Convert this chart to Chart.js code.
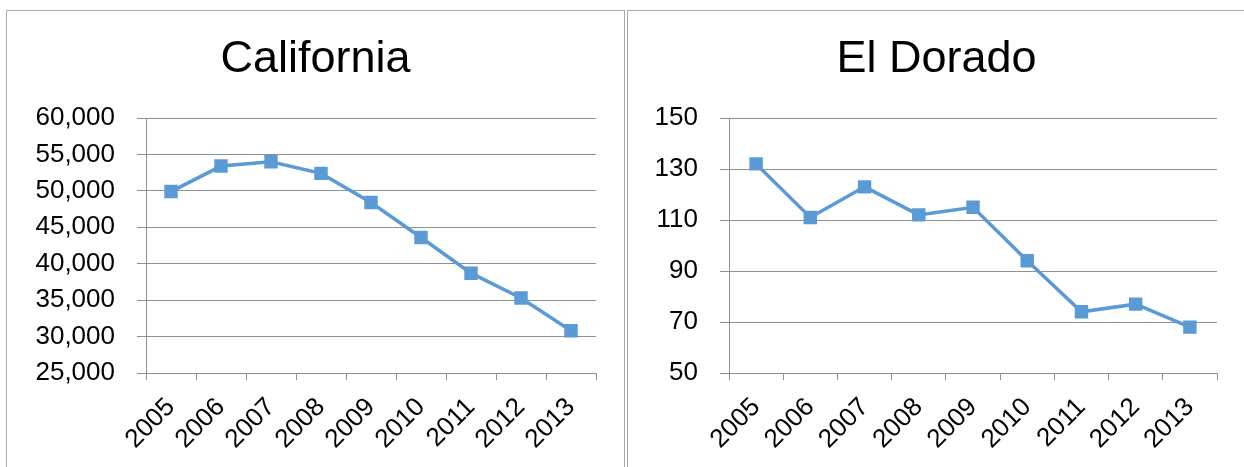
<!DOCTYPE html>
<html>
<head>
<meta charset="utf-8">
<script src="https://cdn.jsdelivr.net/npm/chart.js@4/dist/chart.umd.min.js"></script>
<style>
  html, body { margin: 0; padding: 0; background: #fff; overflow: hidden; }
  .panel {
    position: absolute;
    top: 10px;
    width: 617px;
    height: 470px;
    border: 1px solid #a9a9a9;
    background: #fff;
  }
  #leftPanel { left: 6px; }
  #rightPanel { left: 627px; }
  .panel canvas { display: block; }
</style>
</head>
<body>
<div class="panel" id="leftPanel"><canvas id="californiaChart"></canvas></div>
<div class="panel" id="rightPanel"><canvas id="elDoradoChart"></canvas></div>

<script>
const years = ["2005", "2006", "2007", "2008", "2009", "2010", "2011", "2012", "2013"];
const californiaValues = [49900, 53400, 54000, 52400, 48400, 43600, 38700, 35300, 30800];
const elDoradoValues = [132, 111, 123, 112, 115, 94, 74, 77, 68];

const californiaTicks = { min: 25000, max: 60000, step: 5000 };
const elDoradoTicks = { min: 50, max: 150, step: 20 };

const lineBlue = "#5b9bd5";
const gridGray = "#909090";
const fontFamily = "'Liberation Sans', Arial, sans-serif";

function lineChart(canvasId, title, values, range, yWidth) {
  const canvas = document.getElementById(canvasId);
  canvas.width = 617;
  canvas.height = 457;
  canvas.style.width = "617px";
  canvas.style.height = "457px";

  return new Chart(canvas, {
    type: "line",
    data: {
      labels: years,
      datasets: [
        {
          data: values,
          borderColor: lineBlue,
          backgroundColor: lineBlue,
          borderWidth: 3.5,
          tension: 0,
          pointStyle: "rect",
          pointRadius: 9.5,
          pointBorderWidth: 0,
          pointBackgroundColor: lineBlue
        }
      ]
    },
    options: {
      responsive: false,
      animation: false,
      // equal side padding keeps the title centred on the whole panel
      layout: { padding: { left: 28, right: 28, top: 0, bottom: 0 } },
      plugins: {
        legend: { display: false },
        tooltip: { enabled: false },
        title: {
          display: true,
          text: title,
          color: "#000",
          font: { family: fontFamily, size: 45, weight: "normal" },
          padding: { top: 22, bottom: 31 }
        }
      },
      scales: {
        x: {
          offset: true,
          grid: { offset: true, drawOnChartArea: false, drawTicks: true, tickLength: 7, color: gridGray },
          border: { color: gridGray },
          ticks: {
            color: "#000",
            font: { family: fontFamily, size: 26 },
            maxRotation: 45,
            minRotation: 45,
            autoSkip: false,
            padding: 12
          },
          afterFit: (scale) => { scale.height = 95; }
        },
        y: {
          min: range.min,
          max: range.max,
          grid: { color: gridGray, tickLength: 9 },
          border: { color: gridGray },
          ticks: {
            stepSize: range.step,
            color: "#000",
            font: { family: fontFamily, size: 26 },
            padding: 22
          },
          afterFit: (scale) => { scale.width = yWidth; }
        }
      }
    }
  });
}

lineChart("californiaChart", "California", californiaValues, californiaTicks, 111);
lineChart("elDoradoChart", "El Dorado", elDoradoValues, elDoradoTicks, 73);
</script>
</body>
</html>
